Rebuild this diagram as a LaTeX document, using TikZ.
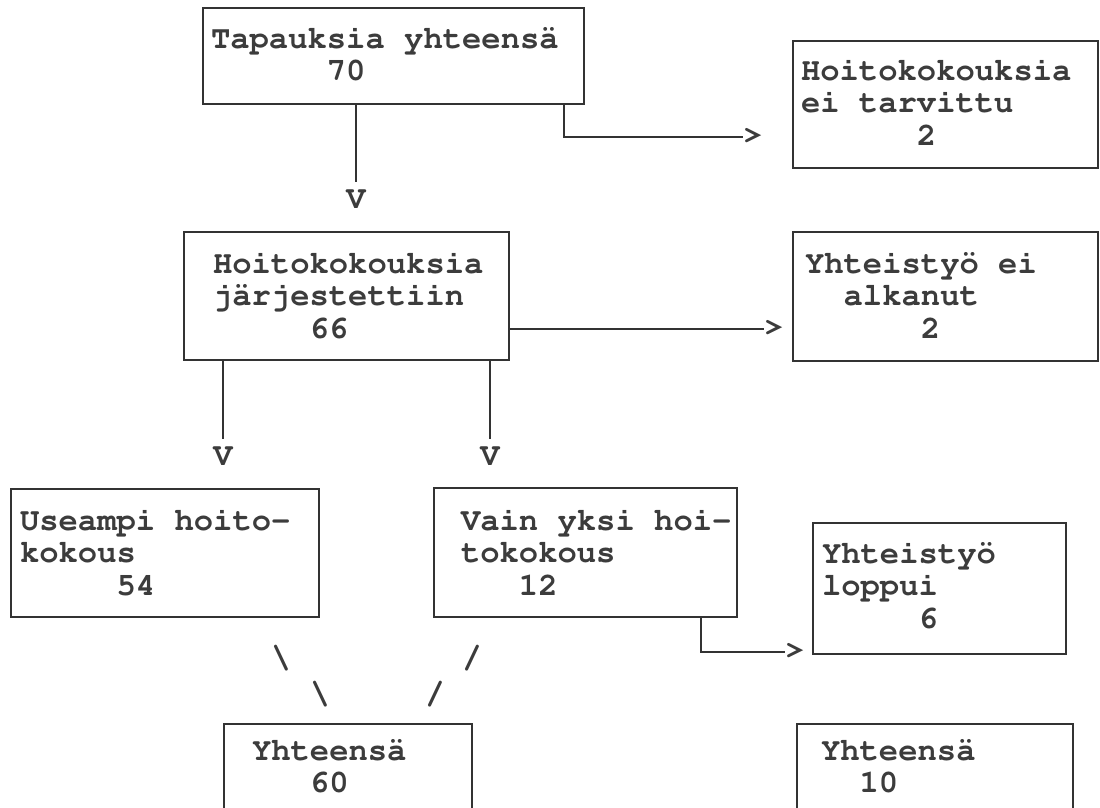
\documentclass[tikz,border=0pt]{standalone}
\usepackage[T1]{fontenc}
\usepackage{courier}
\definecolor{ink}{HTML}{333333}
\definecolor{type}{HTML}{3C3C3C}
\newcommand\typefont{\fontsize{32.2}{32.5}\selectfont\ttfamily\bfseries}
\newcommand\rows[1]{\begin{tabular}[t]{@{}l@{}}#1\end{tabular}}
\newcommand\pad[1]{\phantom{#1}}
\tikzset{
  panel/.style={draw=ink, line width=2.4pt, rectangle, inner sep=0pt, outer sep=0pt, anchor=north west},
  lbl/.style={text=type, font=\typefont, inner sep=0pt, outer sep=0pt, anchor=base west},
  glyph/.style={text=type, font=\typefont, inner sep=0pt, outer sep=0pt},
  conn/.style={draw=ink, line width=2pt}
}
\begin{document}
\begin{tikzpicture}[x=1pt,y=-1pt]
\useasboundingbox (0,0) rectangle (1100,807);
\clip (0,0) rectangle (1100,807);

% boxes
\node[panel, minimum width=381pt, minimum height=96pt]  (b1) at (203,8)   {};
\node[panel, minimum width=305pt, minimum height=127pt] (b2) at (793,41)  {};
\node[panel, minimum width=325pt, minimum height=128pt] (b3) at (184,232) {};
\node[panel, minimum width=305pt, minimum height=129pt] (b4) at (793,232) {};
\node[panel, minimum width=308pt, minimum height=128pt] (b5) at (11,489)  {};
\node[panel, minimum width=303pt, minimum height=129pt] (b6) at (434,488) {};
\node[panel, minimum width=253pt, minimum height=131pt] (b7) at (813,523) {};
\node[panel, minimum width=248pt, minimum height=130pt] (b8) at (224,724) {};
\node[panel, minimum width=276pt, minimum height=130pt] (b9) at (797,724) {};

% box texts
\node[lbl] (t1) at (211,48)  {\rows{Tapauksia yhteens\"a\\\pad{000000}70}};
\node[lbl] (t2) at (801,80)  {\rows{Hoitokokouksia\\ei tarvittu\\\pad{000000}2}};
\node[lbl] (t3) at (213,273) {\rows{Hoitokokouksia\\j\"arjestettiin\\\pad{00000}66}};
\node[lbl] (t4) at (805,273) {\rows{Yhteisty\"o ei\\\pad{00}alkanut\\\pad{000000}2}};
\node[lbl] (t5) at (20,530)  {\rows{Useampi hoito-\\kokous\\\pad{00000}54}};
\node[lbl] (t6) at (461,530) {\rows{Vain yksi hoi-\\tokokous\\\pad{000}12}};
\node[lbl] (t7) at (822,563) {\rows{Yhteisty\"o\\loppui\\\pad{00000}6}};
\node[lbl] (t8) at (252,760) {\rows{Yhteens\"a\\\pad{000}60}};
\node[lbl] (t9) at (821,760) {\rows{Yhteens\"a\\\pad{00}10}};

% typed arrow heads
\node[glyph] (v1) at (356,200) {V};
\node[glyph] (v2) at (223,457) {V};
\node[glyph] (v3) at (490,457) {V};
\node[glyph] (g1) at (753,137) {>};
\node[glyph] (g2) at (774,329) {>};
\node[glyph] (g3) at (795,652) {>};

% typed slashes joining into the total
\node[glyph] (s1) at (281,659) {\textbackslash};
\node[glyph] (s2) at (320,695) {\textbackslash};
\node[glyph] (s3) at (472,659) {/};
\node[glyph] (s4) at (435,695) {/};

% connectors
\draw[conn] (b1.south -| v1) -- ([yshift=9pt]v1.north);
\draw[conn] ([xshift=-20pt]b1.south east) |- (g1.west);
\draw[conn] (b3.east |- g2) -- (g2.west);
\draw[conn] (b3.south -| v2) -- ([yshift=9pt]v2.north);
\draw[conn] (b3.south -| v3) -- ([yshift=9pt]v3.north);
\draw[conn] ([xshift=-36pt]b6.south east) |- (g3.west);
\end{tikzpicture}
\end{document}
